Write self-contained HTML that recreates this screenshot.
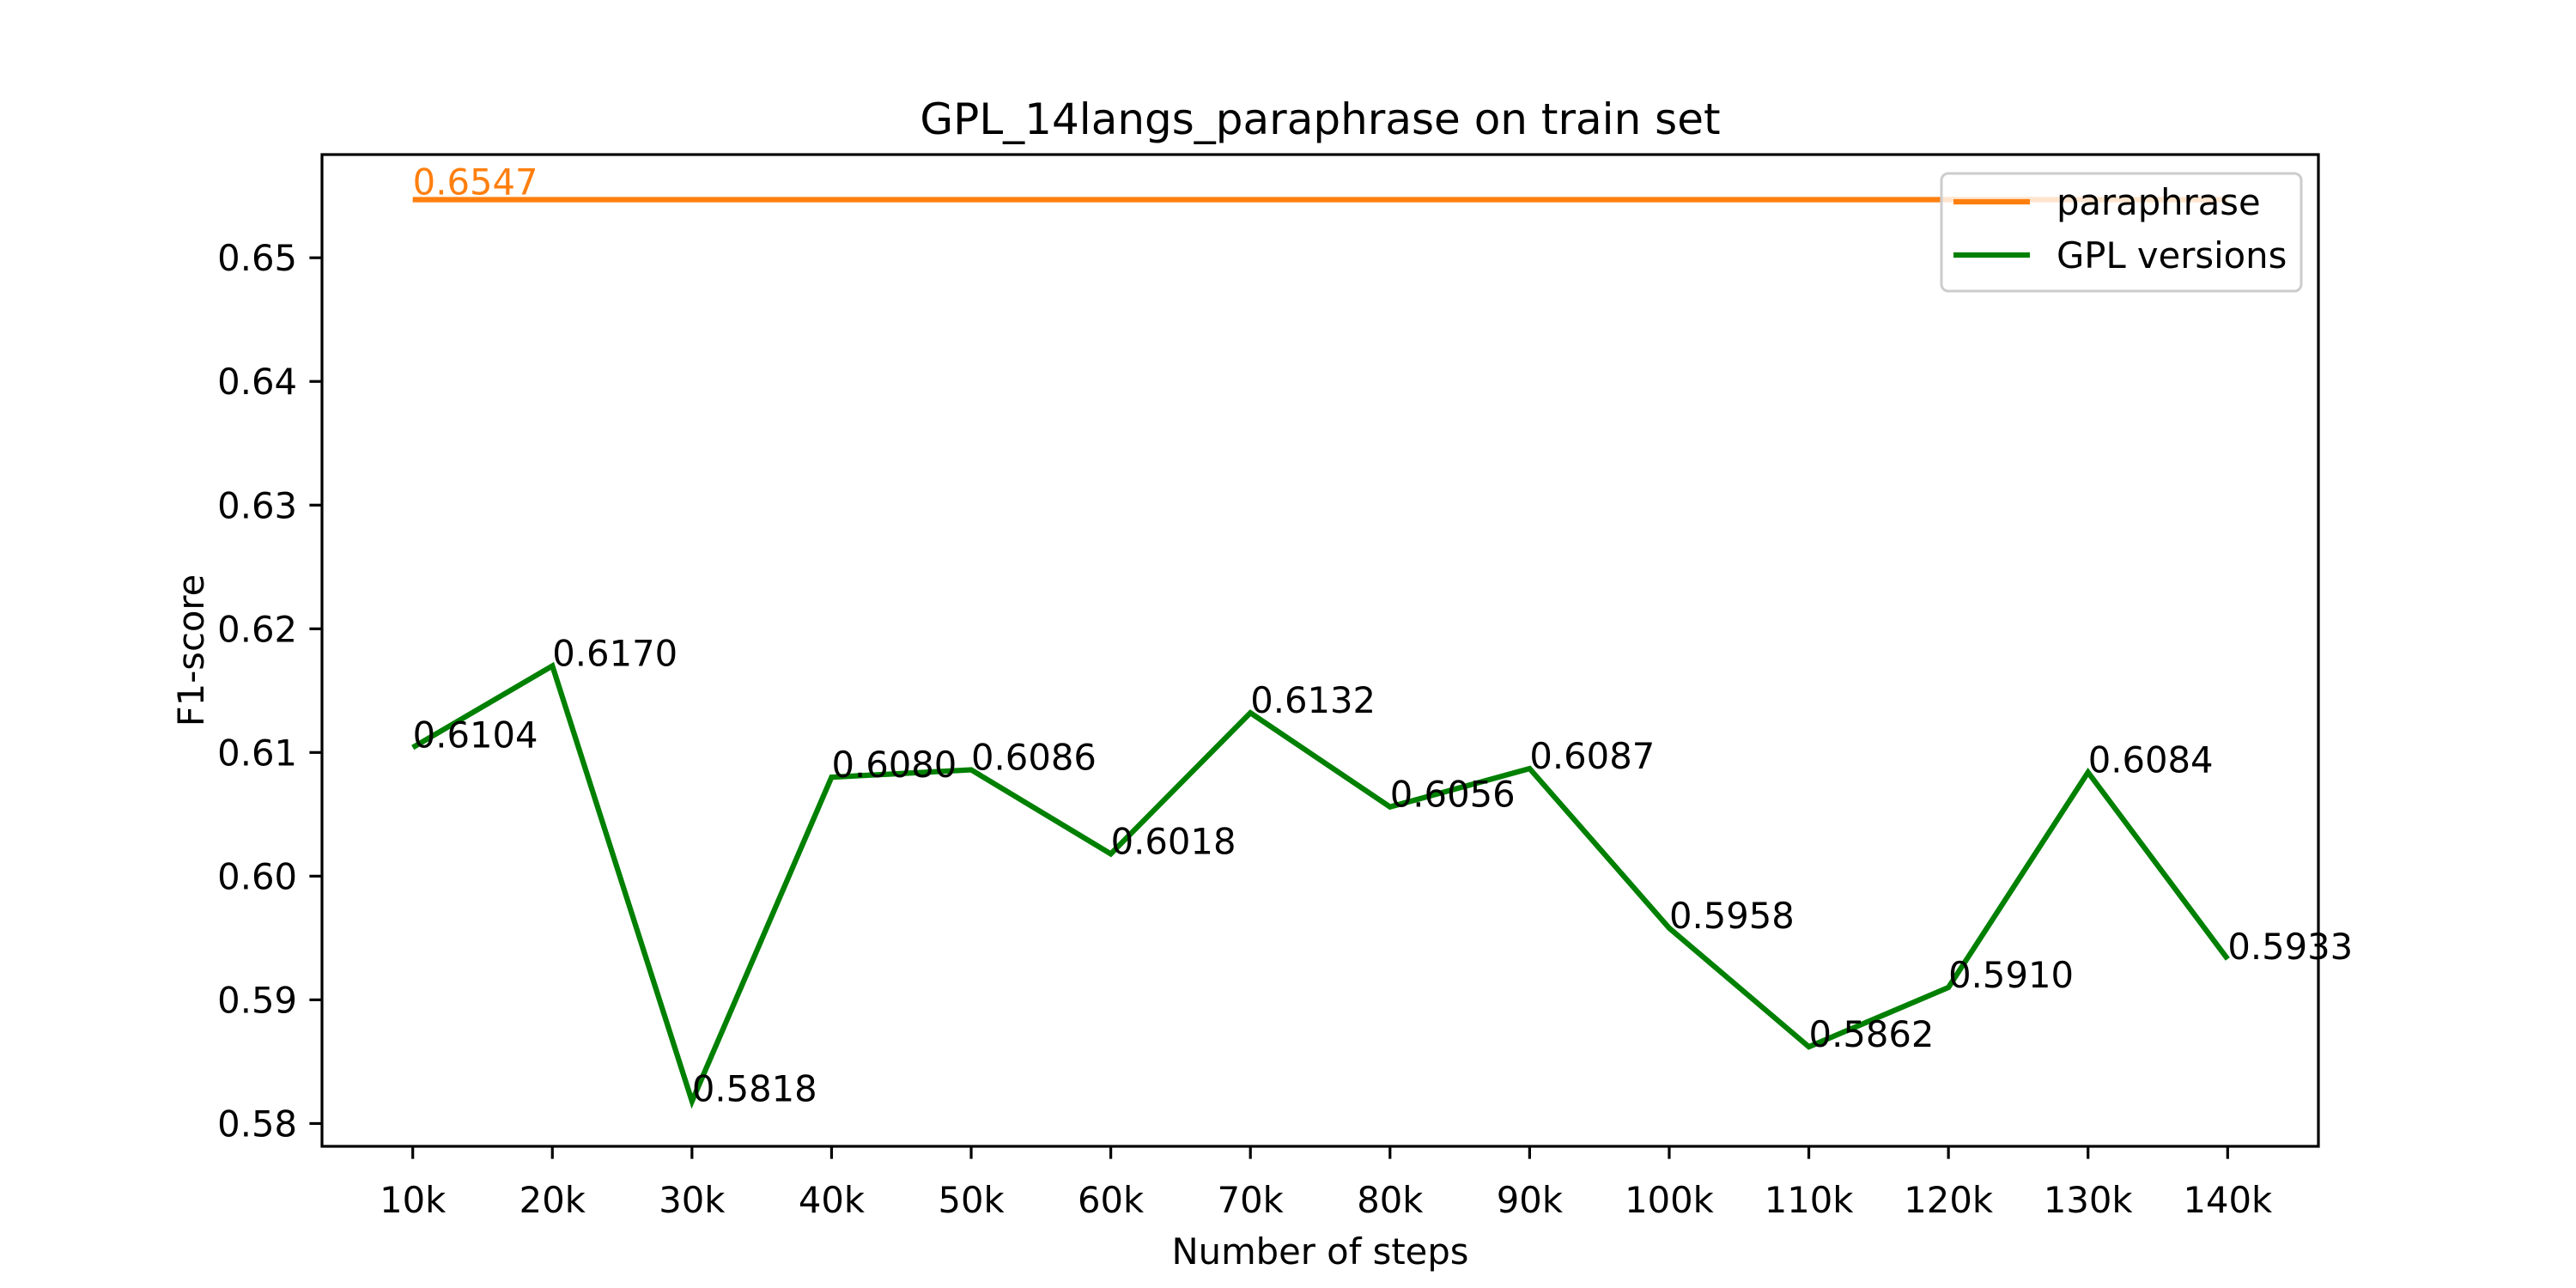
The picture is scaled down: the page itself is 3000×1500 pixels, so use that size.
<!DOCTYPE html>
<html><head><meta charset="utf-8"><style>
html,body{margin:0;padding:0;background:#fff;}
svg{display:block;font-family:"DejaVu Sans","Liberation Sans",sans-serif;}
</style></head><body>
<svg id="chart" width="3000" height="1500" viewBox="0 0 3000 1500">
<rect width="3000" height="1500" fill="#fff"/>
<g id="series"></g>
<rect x="375" y="180" width="2325" height="1155" fill="none" stroke="#000" stroke-width="3.2"/>
<g id="xticks"></g>
<g id="yticks"></g>
<text x="1537.5" y="156" font-size="50" text-anchor="middle">GPL_14langs_paraphrase on train set</text>
<text x="1537.5" y="1472" font-size="41.7" text-anchor="middle">Number of steps</text>
<text transform="translate(237,757.5) rotate(-90)" font-size="41.7" text-anchor="middle">F1-score</text>
<g>
<rect x="2261" y="202" width="419" height="137" rx="8" fill="#fff" fill-opacity="0.8" stroke="#ccc" stroke-width="3"/>
<g>
<line x1="2275" y1="235" x2="2364" y2="235" stroke="#ff7f0e" stroke-width="6.25"/>
<text x="2395" y="250" font-size="41.7">paraphrase</text></g>
<g>
<line x1="2275" y1="297" x2="2364" y2="297" stroke="#008000" stroke-width="6.25"/>
<text x="2395" y="312" font-size="41.7">GPL versions</text></g>
</g>
</svg>
<script>
const categories = ["10k","20k","30k","40k","50k","60k","70k","80k","90k","100k","110k","120k","130k","140k"];
const gplValues = [0.6104,0.6170,0.5818,0.6080,0.6086,0.6018,0.6132,0.6056,0.6087,0.5958,0.5862,0.5910,0.6084,0.5933];
const paraphraseValue = [0.6547];
const yTickValues = [0.58,0.59,0.60,0.61,0.62,0.63,0.64,0.65];
const yTickLabels = ["0.58","0.59","0.60","0.61","0.62","0.63","0.64","0.65"];

const NS = "http://www.w3.org/2000/svg";
const L=375,R=2700,T=180,B=1335;
const n = categories.length;
const allV = gplValues.concat(paraphraseValue);
const vmin = Math.min(...allV), vmax = Math.max(...allV);
const pad = (vmax-vmin)*0.05;
const y0 = vmin-pad, y1 = vmax+pad;
const xm = (n-1)*0.05;
function xs(i){ return L + (i+xm)/((n-1)+2*xm)*(R-L); }
function ys(v){ return B - (v-y0)/(y1-y0)*(B-T); }
function mk(tag, attrs, parent){ const e=document.createElementNS(NS,tag); for(const k in attrs) e.setAttribute(k,attrs[k]); parent.appendChild(e); return e; }

const xt = document.getElementById('xticks');
categories.forEach((c,i)=>{
  const x = xs(i);
  const t = mk('line',{x1:x,y1:B,x2:x,y2:B+14.6,stroke:'#000','stroke-width':3.2},xt);
  
  
  const lb = mk('text',{x:x,y:1412,'font-size':41.7,'text-anchor':'middle'},xt);
  lb.textContent = c;
  
  
});
const yt = document.getElementById('yticks');
yTickValues.forEach((v,i)=>{
  const y = ys(v);
  const t = mk('line',{x1:L-14.6,y1:y,x2:L,y2:y,stroke:'#000','stroke-width':3.2},yt);
  
  
  const lb = mk('text',{x:L-29,y:y+15,'font-size':41.7,'text-anchor':'end'},yt);
  lb.textContent = yTickLabels[i];
  
  
});

const sg = document.getElementById('series');
const py = ys(paraphraseValue[0]);
const pl = mk('line',{x1:xs(0),y1:py,x2:xs(n-1),y2:py,stroke:'#ff7f0e','stroke-width':6.25},sg);


const pt = mk('text',{x:xs(0),y:py-6,'font-size':41.7,fill:'#ff7f0e'},sg);
pt.textContent = paraphraseValue[0].toFixed(4);



const pts = gplValues.map((v,i)=>xs(i).toFixed(1)+','+ys(v).toFixed(1)).join(' ');
const gl = mk('polyline',{points:pts,fill:'none',stroke:'#008000','stroke-width':6.25,'stroke-linejoin':'miter'},sg);


gplValues.forEach((v,i)=>{
  const t = mk('text',{x:xs(i),y:ys(v),'font-size':41.7,fill:'#000'},sg);
  t.textContent = v.toFixed(4);
  
  
});
</script>
</body></html>
